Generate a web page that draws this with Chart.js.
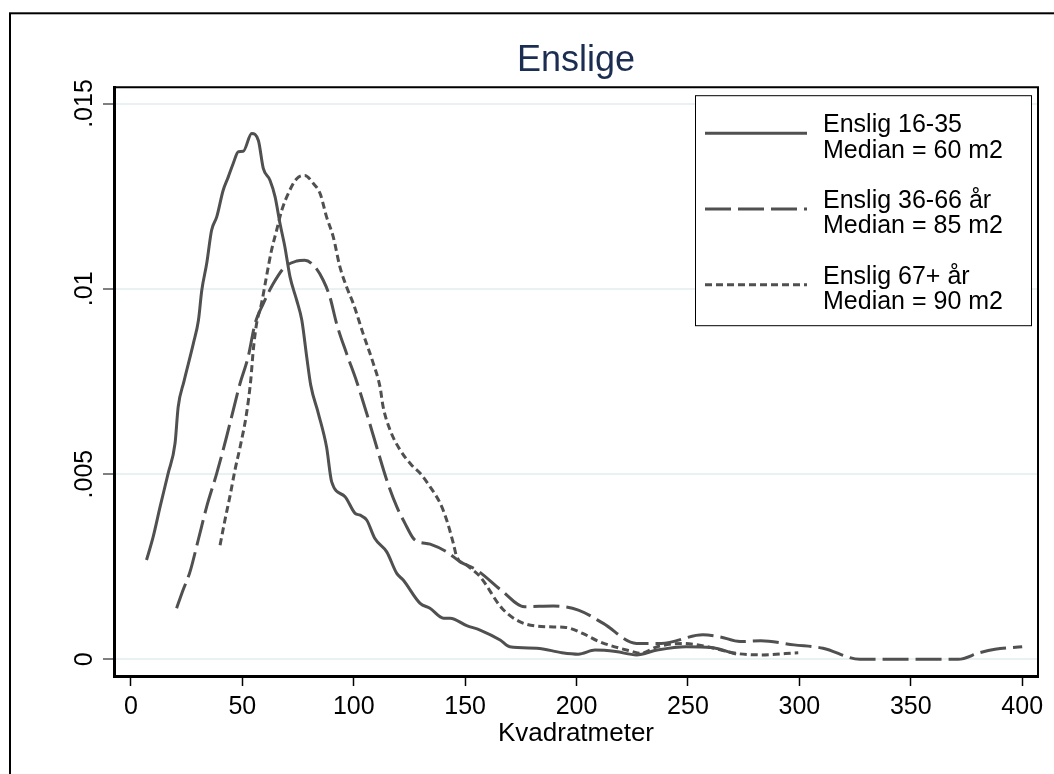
<!DOCTYPE html>
<html lang="sv">
<head>
<meta charset="UTF-8">
<title>Enslige</title>
<script src="https://cdn.jsdelivr.net/npm/chart.js"></script>
<style>
    body {
        margin: 0;
        padding: 0;
        background: #ffffff;
        overflow: hidden;
    }
    #wrap {
        width: 1054px;
        height: 774px;
    }
</style>
</head>
<body>
<div id="wrap"><canvas id="densityChart" width="1054" height="774"></canvas></div>
<script>
    // Kvadratmeter (x) og tetthet (y) for hver gruppe
    const xYoung = [7.0, 10.0, 13.1, 16.7, 19.8, 21.2, 23.8, 28.0, 30.3, 31.8, 34.0, 36.2, 38.5, 41.4, 43.7, 45.9, 48.2, 50.4, 54.2,
        57.2, 59.4, 62.4, 64.7, 66.9, 69.1, 71.4, 74.4, 76.7, 78.9, 80.7, 84.1, 87.8, 90.1, 96.1, 100.6, 102.9, 105.8, 109.5,
        114.8, 119.3, 122.2, 129.8, 134.2, 140.3, 143.2, 150.7, 156.7, 165.7, 170.0, 182.2, 193.4, 200.8, 208.3, 217.6,
        226.9, 236.2, 249.2, 260.4, 271.6];
    const yYoung = [.00268, .00331, .00412, .00502, .00583, .00681, .0075, .00852, .00915, .00996, .01068, .01158, .01194, .01266, .01302, .01338, .0137, .01371, .01419,
        .0140, .01325, .01293, .01248, .01176, .01113, .01032, .00969, .00915, .00816, .0074, .00664, .00573, .00479, .00439, .00394, .00389, .00376, .00326,
        .0029, .00232, .00214, .00151, .00138, .00111, .00111, .00091, .00079, .00052, .00034, .0003, .00018, .00014, .00025, .00021,
        .00012, .00025, .00034, .00032, .00014];

    const xMid = [20.5, 23.4, 26.5, 30.2, 34.0, 38.5, 42.9, 45.9, 49.0, 52.6, 55.7, 59.4, 63.9, 69.1, 74.4, 78.0, 82.6, 86.3, 89.3,
        92.3, 96.8, 101.3, 105.8, 110.3, 114.8, 119.3, 123.0, 126.8, 129.1, 134.3, 141.7, 147.8, 155.2, 166.5, 176.6, 189.6,
        200.8, 212.0, 226.9, 238.0, 256.7, 264.1, 273.4, 282.7, 297.6, 310.6, 327.2, 350.0, 371.3, 381.0, 387.8, 400.0];
    const yMid = [.00138, .00187, .00236, .00322, .00412, .00502, .0060, .00672, .00745, .00816, .00906, .0096, .01014, .01059, .01075, .01077, .01059, .01023, .00978,
        .00906, .00825, .0075, .00664, .00573, .00484, .00412, .00367, .00326, .00317, .00311, .0029, .00263, .00241, .00185, .00142, .00144,
        .00133, .00097, .00043, .00043, .00066, .00061, .00048, .0005, .00039, .0003, 0, 0, 0, .00018, .00027, .00034];

    const xOld = [40.0, 42.2, 44.4, 46.7, 49.0, 51.9, 53.8, 54.9, 56.4, 58.6, 60.8, 63.1, 65.4, 67.7, 70.6, 74.4, 78.0, 81.9, 84.9,
        87.8, 90.8, 93.8, 96.8, 99.8, 104.2, 108.8, 111.8, 113.2, 116.3, 120.8, 126.0, 129.8, 134.2, 138.8, 141.7, 144.7, 146.2,
        150.7, 156.7, 166.5, 174.7, 185.9, 195.2, 202.7, 210.1, 225.0, 228.7, 236.2, 247.4, 258.6, 271.6, 282.7, 299.5];
    const yOld = [.00308, .00376, .00439, .00511, .00573, .00664, .00755, .00834, .00906, .0096, .01032, .01104, .01158, .01212, .01257, .01297, .01306, .01284, .01257,
        .01194, .0114, .01059, .01005, .0096, .00879, .00798, .00735, .00681, .00619, .00565, .00524, .00502, .00466, .00421, .00376, .00313, .00277,
        .00254, .00223, .00138, .00101, .00088, .00086, .0007, .00048, .00021, .00016, .00034, .00043, .00034, .00016, .00012, .00018];

    const seriesLabels = [
        ['Enslig 16-35', 'Median = 60 m2'],
        ['Enslig 36-66 år', 'Median = 85 m2'],
        ['Enslig 67+ år', 'Median = 90 m2']
    ];

    const xTicks = [0, 50, 100, 150, 200, 250, 300, 350, 400];
    const yTicks = [0, .005, .01, .015];
    const yTickLabels = ['0', '.005', '.01', '.015'];

    const FONT = '"Liberation Sans", Arial, Helvetica, sans-serif';
    const LINE = '#505050';

    function points(xs, ys) {
        return xs.map((x, i) => ({ x: x, y: ys[i] }));
    }

    // ytre ramme + topp/hoyre kant rundt plottet
    const framePlugin = {
        id: 'frame',
        beforeDraw(chart) {
            const ctx = chart.ctx;
            ctx.save();
            ctx.fillStyle = '#ffffff';
            ctx.fillRect(0, 0, chart.width, chart.height);
            ctx.strokeStyle = '#000000';
            ctx.lineWidth = 2;
            ctx.strokeRect(10, 13.3, 1200, 1000);
            ctx.restore();
        },
        afterDraw(chart) {
            const a = chart.chartArea;
            const ctx = chart.ctx;
            ctx.save();
            ctx.strokeStyle = '#000000';
            ctx.lineWidth = 2;
            ctx.beginPath();
            ctx.moveTo(a.left, a.top);
            ctx.lineTo(a.right, a.top);
            ctx.lineTo(a.right, a.bottom);
            ctx.stroke();
            ctx.restore();
        }
    };

    // roterte etiketter pa y-aksen
    const yLabelPlugin = {
        id: 'yLabels',
        afterDraw(chart) {
            const ctx = chart.ctx;
            const y = chart.scales.y;
            ctx.save();
            ctx.fillStyle = '#000000';
            ctx.font = '25px ' + FONT;
            ctx.textAlign = 'center';
            ctx.textBaseline = 'alphabetic';
            yTicks.forEach((v, i) => {
                ctx.save();
                ctx.translate(83, y.getPixelForValue(v));
                ctx.rotate(-Math.PI / 2);
                ctx.fillText(yTickLabels[i], 0, 9);
                ctx.restore();
            });
            ctx.restore();
        }
    };

    // forklaring inne i plottet, oppe til hoyre
    const legendPlugin = {
        id: 'boxLegend',
        afterDraw(chart) {
            const a = chart.chartArea;
            const ctx = chart.ctx;
            const left = a.right - 343, top = a.top + 8, w = 336, h = 230;
            ctx.save();
            ctx.fillStyle = '#ffffff';
            ctx.fillRect(left, top, w, h);
            ctx.strokeStyle = '#000000';
            ctx.lineWidth = 1;
            ctx.strokeRect(left + 0.5, top + 0.5, w, h);
            chart.data.datasets.forEach((ds, i) => {
                const ly = top + 38 + i * 75.8;
                ctx.strokeStyle = ds.borderColor;
                ctx.lineWidth = ds.borderWidth;
                ctx.setLineDash(ds.borderDash || []);
                ctx.beginPath();
                ctx.moveTo(left + 10, ly);
                ctx.lineTo(left + 112, ly);
                ctx.stroke();
                ctx.setLineDash([]);
                ctx.fillStyle = '#000000';
                ctx.font = '25px ' + FONT;
                ctx.textAlign = 'left';
                ctx.textBaseline = 'alphabetic';
                const b = top + 36.7 + i * 75.8;
                seriesLabels[i].forEach((t, j) => ctx.fillText(t, left + 128, b + j * 25.7));
            });
            ctx.restore();
        }
    };

    const chart = new Chart(document.getElementById('densityChart'), {
        type: 'line',
        data: {
            datasets: [{
                label: seriesLabels[0].join(' '),
                data: points(xYoung, yYoung),
                borderColor: LINE,
                borderWidth: 3,
                borderDash: []
            }, {
                label: seriesLabels[1].join(' '),
                data: points(xMid, yMid),
                borderColor: LINE,
                borderWidth: 3,
                borderDash: [26, 7]
            }, {
                label: seriesLabels[2].join(' '),
                data: points(xOld, yOld),
                borderColor: LINE,
                borderWidth: 3,
                borderDash: [7, 4]
            }]
        },
        options: {
            responsive: false,
            animation: false,
            devicePixelRatio: 1,
            elements: {
                point: { radius: 0 },
                line: { tension: 0.3, cubicInterpolationMode: 'monotone', fill: false }
            },
            layout: { padding: { left: 0, right: 16, top: 0, bottom: 0 } },
            plugins: {
                legend: { display: false },
                tooltip: { enabled: false },
                title: {
                    display: true,
                    text: 'Enslige',
                    fullSize: false,
                    color: '#1c2d52',
                    font: { family: FONT, size: 36, weight: 'normal' },
                    padding: { top: 39, bottom: 5 }
                }
            },
            scales: {
                x: {
                    type: 'linear',
                    min: -7.6,
                    max: 407.1,
                    afterBuildTicks: (s) => { s.ticks = xTicks.map(v => ({ value: v })); },
                    afterFit: (s) => { s.height = 98; },
                    grid: {
                        drawOnChartArea: false,
                        tickLength: 10,
                        tickColor: '#000000',
                        tickWidth: 1.5
                    },
                    border: { display: true, color: '#000000', width: 3 },
                    ticks: {
                        color: '#000000',
                        font: { family: FONT, size: 25 },
                        padding: 6,
                        maxRotation: 0,
                        callback: (v) => String(v)
                    },
                    title: {
                        display: true,
                        text: 'Kvadratmeter',
                        color: '#000000',
                        font: { family: FONT, size: 26 },
                        padding: { top: 0, bottom: 25 }
                    }
                },
                y: {
                    type: 'linear',
                    min: -0.00045,
                    max: 0.01544,
                    afterBuildTicks: (s) => { s.ticks = yTicks.map(v => ({ value: v })); },
                    afterFit: (s) => { s.width = 114; },
                    grid: {
                        color: '#e9f1f2',
                        lineWidth: 2,
                        tickLength: 11,
                        tickColor: '#000000',
                        tickWidth: 1
                    },
                    border: { display: true, color: '#000000', width: 3 },
                    ticks: { display: false }
                }
            }
        },
        plugins: [framePlugin, yLabelPlugin, legendPlugin]
    });
</script>
</body>
</html>
